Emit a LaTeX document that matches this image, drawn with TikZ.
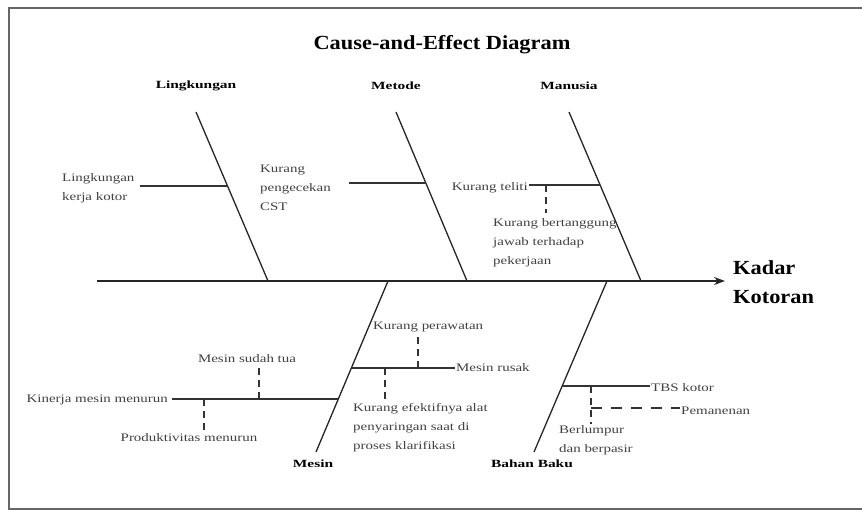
\documentclass[tikz,border=0pt]{standalone}
\usepackage{fontspec}
\setmainfont{Liberation Serif}
\newfontfamily\bodyfont[FakeStretch=1.3]{Liberation Serif}
\newfontfamily\labfont[FakeStretch=1.4]{Liberation Serif}
\newfontfamily\bigfont[FakeStretch=1.12]{Liberation Serif}
\usetikzlibrary{arrows.meta}
\begin{document}
\begin{tikzpicture}[x=1pt,y=-1pt,
  bone/.style={line width=1.3pt, draw=black!85},
  twig/.style={line width=1.1pt, draw=black!80},
  dtwig/.style={twig, dash pattern=on 7pt off 5pt},
  ldtwig/.style={twig, dash pattern=on 11pt off 9pt},
  cause/.style={font=\bodyfont\fontsize{11.5}{19}\selectfont, text=black!75, inner sep=1pt, align=left},
  cat/.style={font=\labfont\bfseries\fontsize{11}{13}\selectfont, inner sep=1pt},
  effectbox/.style={font=\bigfont\bfseries\fontsize{20}{29}\selectfont, inner sep=0pt, align=left}
]
\useasboundingbox (0,0) rectangle (862,511);
% frame
\draw[black!60, line width=2pt] (862,8) -- (9,8) -- (9,509) -- (862,509);

% title
\node[font=\bigfont\bfseries\fontsize{20}{24}\selectfont] (title) at (442,45) {Cause-and-Effect Diagram};

% spine
\coordinate (tail) at (97,281);
\node[effectbox, anchor=west] (effect) at (733,282.5) {Kadar\\Kotoran};
\coordinate (tip) at (725,281);
\draw[bone, -{Stealth[length=11pt,width=8pt]}] (tail) -- (tip);

% category labels
\node[cat] (lLing) at (196,86) {Lingkungan};
\node[cat] (lMet) at (396,86) {Metode};
\node[cat] (lMan) at (569,86) {Manusia};
\node[cat] (lMes) at (313,464) {Mesin};
\node[cat] (lBB) at (532,464) {Bahan Baku};

% bones
\coordinate (u1t) at (196,112); \coordinate (u1b) at (268,281);
\coordinate (u2t) at (396,112); \coordinate (u2b) at (467,281);
\coordinate (u3t) at (569,112); \coordinate (u3b) at (641,281);
\coordinate (d1t) at (388,281); \coordinate (d1b) at (316,452);
\coordinate (d2t) at (607,281); \coordinate (d2b) at (534,452);
\draw[bone] (u1t) -- (u1b);
\draw[bone] (u2t) -- (u2b);
\draw[bone] (u3t) -- (u3b);
\draw[bone] (d1t) -- (d1b);
\draw[bone] (d2t) -- (d2b);

% junctions
\coordinate (j1) at (227.5,186);
\coordinate (j2) at (425.8,183);
\coordinate (j3) at (600.1,185);
\coordinate (jm1) at (338.3,399);
\coordinate (jm2) at (351.4,368);
\coordinate (jb) at (562.2,386);

% Lingkungan
\node[cause, anchor=west] (c1) at (61,188) {Lingkungan\\kerja kotor};
\draw[twig, shorten <=4pt] (c1.east |- j1) -- (j1);

% Metode
\node[cause, anchor=west] (c2) at (259,188) {Kurang\\pengecekan\\CST};
\draw[twig, shorten <=17pt] (c2.east |- j2) -- (j2);

% Manusia
\node[cause, anchor=east] (c3) at (529,188) {Kurang teliti};
\draw[twig] (c3.east |- j3) -- (j3);
\coordinate (k3) at (546,185);
\node[cause, anchor=west] (c3b) at (492,243) {Kurang bertanggung\\jawab terhadap\\pekerjaan};
\draw[dtwig, shorten >=5pt] (k3) -- (k3 |- c3b.north);

% Mesin
\node[cause, anchor=east] (m1) at (169,400) {Kinerja mesin menurun};
\draw[twig, shorten <=3pt] (m1.east |- jm1) -- (jm1);
\coordinate (km1) at (259,399);
\node[cause] (m1a) at (247,359) {Mesin sudah tua};
\draw[dtwig] (km1) -- (km1 |- m1a.south);
\coordinate (km2) at (204,399);
\node[cause] (m1b) at (189,438) {Produktivitas menurun};
\draw[dtwig] (km2) -- (km2 |- m1b.north);

\node[cause, anchor=west] (m2) at (455,368) {Mesin rusak};
\draw[twig] (jm2) -- (m2.west);
\coordinate (km3) at (418,368);
\node[cause, anchor=west] (m2a) at (372,327) {Kurang perawatan};
\draw[dtwig] (km3) -- (km3 |- m2a.south);
\coordinate (km4) at (385,368);
\node[cause, anchor=west] (m2b) at (352,428) {Kurang efektifnya alat\\penyaringan saat di\\proses klarifikasi};
\draw[dtwig] (km4) -- (km4 |- m2b.north);

% Bahan Baku
\node[cause, anchor=west] (b1) at (650,388) {TBS kotor};
\draw[twig] (jb) -- (b1.west |- jb);
\coordinate (kb1) at (591,386);
\coordinate (kb2) at (591,408);
\node[cause, anchor=west] (b1a) at (680,411) {Pemanenan};
\node[cause, anchor=west] (b1b) at (558,440) {Berlumpur\\dan berpasir};
\draw[dtwig] (kb1) -- (kb1 |- b1b.north);
\draw[ldtwig] (kb2) -- (b1a.west |- kb2);
\end{tikzpicture}
\end{document}
